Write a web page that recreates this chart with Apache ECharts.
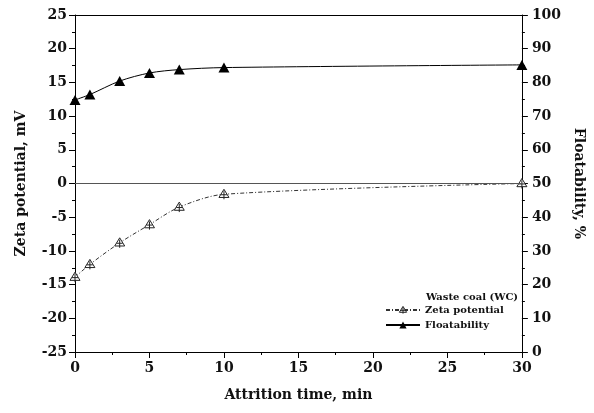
<!DOCTYPE html>
<html><head><meta charset="utf-8">
<script src="https://cdn.jsdelivr.net/npm/echarts@6/dist/echarts.min.js"></script>
<style>html,body{margin:0;padding:0;background:#fff}#c{width:594px;height:413px}</style>
</head><body><div id="c"></div>
<script>
const timeMin = [0, 1, 3, 5, 7, 10, 30];
const zetaPotential = [-13.9, -12.0, -8.8, -6.1, -3.5, -1.6, 0.0];
const floatability = [74.8, 76.4, 80.4, 82.8, 83.8, 84.4, 85.2];
const seriesNames = ['Zeta potential', 'Floatability'];
const legendTitle = 'Waste coal (WC)';
const xTitle = 'Attrition time, min';
const yLeftTitle = 'Zeta potential, mV';
const yRightTitle = 'Floatability, %';

const F = 'DejaVu Serif';
const chart = echarts.init(document.getElementById('c'), null, {renderer: 'canvas'});
const axisCommon = {
  axisLine: {show: true, onZero: false, lineStyle: {color: '#000', width: 1}},
  axisTick: {show: true, length: 6, lineStyle: {color: '#000', width: 1}},
  minorTick: {show: true, splitNumber: 2, length: 3, lineStyle: {color: '#000', width: 1}},
  splitLine: {show: false},
  axisLabel: {color: '#111', fontFamily: F, fontWeight: 'bold', fontSize: 14}
};
const zetaSymbol = 'path://M5 0 L10 9 L0 9 Z M5 2 L5 11 M2 6 L8 6';
const zetaItem = {color: '#fff', borderColor: '#222', borderWidth: 1};
chart.setOption({
  animation: false,
  backgroundColor: '#fff',
  grid: {left: 75, right: 64, top: 15, bottom: 61, show: false},
  title: {text: legendTitle, left: 421, top: 287,
    textStyle: {fontFamily: F, fontWeight: 'bold', fontSize: 10, color: '#111'}},
  legend: {
    orient: 'vertical', left: 380, top: 300, itemWidth: 34, itemHeight: 9, itemGap: 5,
    textStyle: {fontFamily: F, fontWeight: 'bold', fontSize: 10, color: '#111'},
    data: [
      {name: seriesNames[0], itemStyle: zetaItem},
      {name: seriesNames[1]}
    ]
  },
  xAxis: [
    Object.assign({}, axisCommon, {type: 'value', min: 0, max: 30, interval: 5,
      name: xTitle, nameLocation: 'middle', nameGap: 36,
      nameTextStyle: {fontFamily: F, fontWeight: 'bold', fontSize: 14, color: '#111'},
      axisLabel: Object.assign({}, axisCommon.axisLabel, {margin: 9})}),
    {type: 'value', position: 'top', min: 0, max: 30, interval: 5,
      axisLine: {show: true, onZero: false, lineStyle: {color: '#000', width: 1}},
      axisTick: {show: false}, axisLabel: {show: false}, splitLine: {show: false}}
  ],
  yAxis: [
    Object.assign({}, axisCommon, {type: 'value', min: -25, max: 25, interval: 5, position: 'left',
      name: yLeftTitle, nameLocation: 'middle', nameGap: 47, nameRotate: 90,
      nameTextStyle: {fontFamily: F, fontWeight: 'bold', fontSize: 14, color: '#111'},
      axisLabel: Object.assign({}, axisCommon.axisLabel, {margin: 8})}),
    Object.assign({}, axisCommon, {type: 'value', min: 0, max: 100, interval: 10, position: 'right',
      name: yRightTitle, nameLocation: 'middle', nameGap: 42, nameRotate: -90,
      nameTextStyle: {fontFamily: F, fontWeight: 'bold', fontSize: 14, color: '#111'},
      axisLabel: Object.assign({}, axisCommon.axisLabel, {margin: 10})})
  ],
  series: [
    {
      name: seriesNames[0], type: 'line', xAxisIndex: 0, yAxisIndex: 0,
      smooth: 0.3,
      data: timeMin.map((t, i) => [t, zetaPotential[i]]),
      symbol: zetaSymbol, symbolSize: [10, 10],
      itemStyle: zetaItem,
      lineStyle: {color: '#333', width: 1, type: [4, 2, 1, 2]},
      markLine: {silent: true, symbol: 'none', label: {show: false},
        lineStyle: {color: '#555', width: 1, type: 'solid'}, data: [{yAxis: 0}]}
    },
    {
      name: seriesNames[1], type: 'line', xAxisIndex: 0, yAxisIndex: 1,
      smooth: 0.3,
      data: timeMin.map((t, i) => [t, floatability[i]]),
      symbol: 'triangle', symbolSize: [11, 10],
      itemStyle: {color: '#000'},
      lineStyle: {color: '#000', width: 1}
    }
  ]
});
</script></body></html>
